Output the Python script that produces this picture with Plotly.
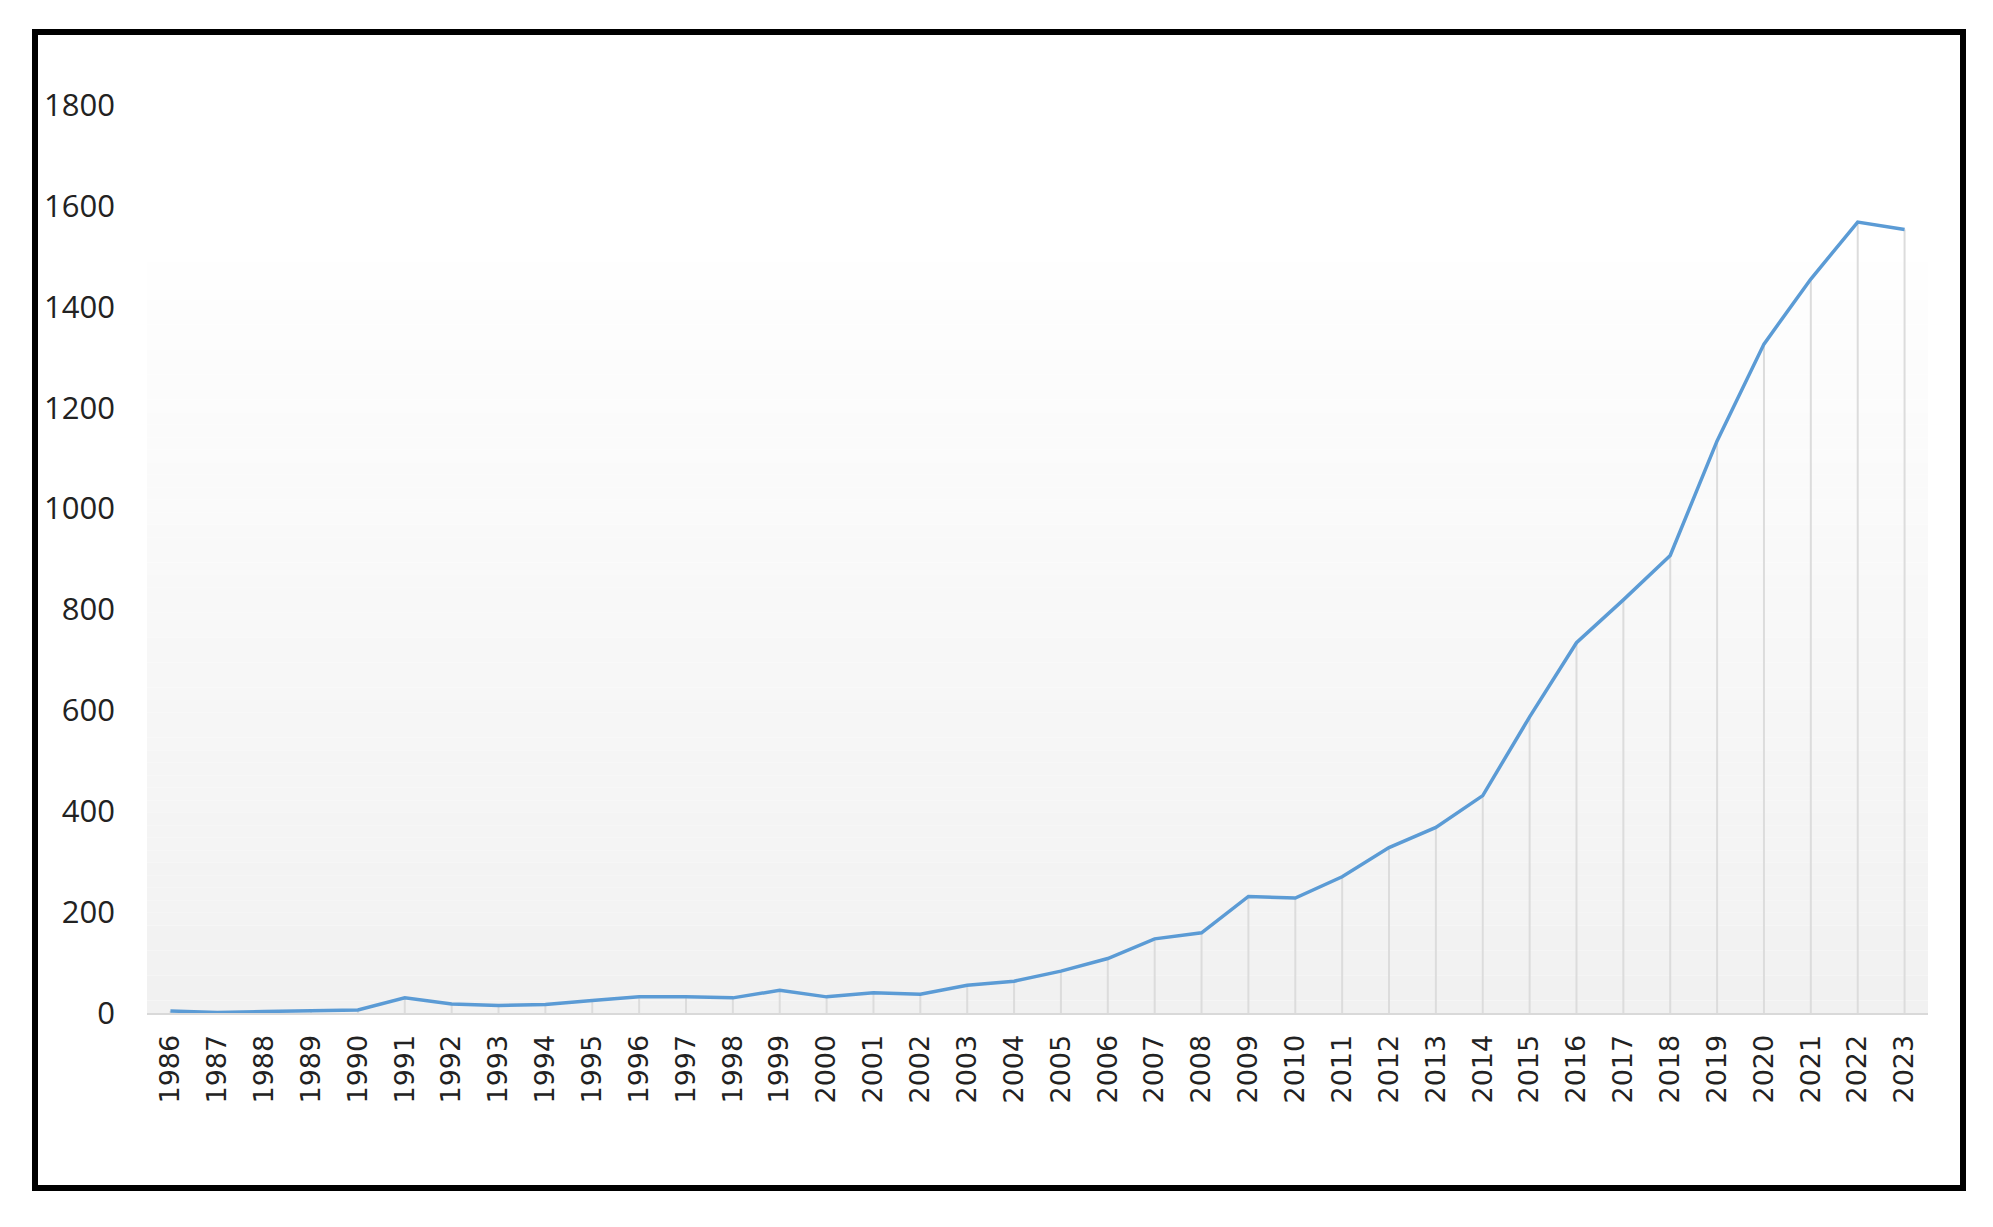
import plotly.graph_objects as go

years = [str(y) for y in range(1986, 2024)]
counts = [4, 1, 3, 5, 6, 30, 18, 15, 17, 25, 32, 32, 30, 45, 32, 40, 37, 55, 63, 83,
          108, 147, 159, 231, 228, 270, 328, 368, 431, 587, 734, 819, 907, 1134, 1326,
          1455, 1568, 1553]
y_ticks = [0, 200, 400, 600, 800, 1000, 1200, 1400, 1600, 1800]

OFF = 8  # default page body margin
W, H = 1993 - OFF, 1227 - OFF
L, R, T, B = 147 - OFF, 1928 - OFF, 105 - OFF, 1013 - OFF  # plot area in figure pixels

def px_x(x):
    return (x - OFF - L) / (R - L)

def px_y(y):
    return (B - (y - OFF)) / (B - T)

fig = go.Figure()

fig.add_trace(go.Scatter(
    x=years, y=counts, mode="lines",
    line=dict(color="#5b9bd5", width=3.5),
    error_y=dict(type="data", symmetric=False, array=[0] * len(counts),
                 arrayminus=counts, width=0, thickness=2, color="#dcdcdc"),
    hoverinfo="x+y", showlegend=False,
))

shapes = []
# gradient plot-area background (white at top -> light grey at axis)
n = 60
top_px, bot_px = 262, 1013
for i in range(n):
    y0 = bot_px - (bot_px - top_px) * i / n
    y1 = bot_px - (bot_px - top_px) * (i + 1) / n
    t = i / (n - 1)
    c = int(round(0xf1 + (0xfe - 0xf1) * t))
    shapes.append(dict(type="rect", xref="paper", yref="paper",
                       x0=0, x1=1, y0=px_y(y0), y1=px_y(y1),
                       fillcolor=f"rgb({c},{c},{c})", line=dict(width=0),
                       layer="below"))
# outer black frame
shapes.append(dict(type="rect", xref="paper", yref="paper",
                   x0=px_x(35), x1=px_x(1963), y0=px_y(1188), y1=px_y(32),
                   line=dict(color="black", width=6), fillcolor="rgba(0,0,0,0)",
                   layer="above"))

fig.update_layout(
    width=W, height=H,
    margin=dict(l=L, r=W - R, t=T, b=H - B, pad=0),
    paper_bgcolor="white", plot_bgcolor="white",
    shapes=shapes,
    xaxis=dict(type="category", range=[-0.5, len(years) - 0.5],
               showgrid=False, zeroline=False,
               showline=True, linecolor="#d9d9d9", linewidth=2,
               ticks="", tickangle=-90, ticklabelstandoff=9,
               tickfont=dict(family="DejaVu Sans", size=27, color="#222222")),
    yaxis=dict(range=[0, 1800], tickvals=y_ticks,
               showgrid=False, zeroline=False, showline=False,
               ticks="", ticklabelstandoff=31,
               tickfont=dict(family="Open Sans", size=31, color="#222222")),
)

fig.write_html("out.html")
